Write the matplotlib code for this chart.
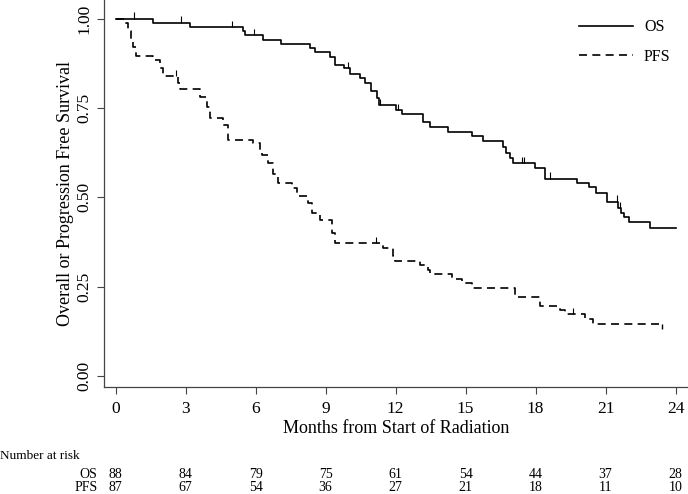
import matplotlib.pyplot as plt
import numpy as np

plt.rcParams['font.family'] = ['Liberation Serif', 'DejaVu Serif']

# step times (months) and survival level after each drop
os_t = [0, 1.59, 3.18, 5.47, 5.55, 6.33, 7.11, 8.33, 8.54, 9.21, 9.40, 9.79, 10.04, 10.47,
        10.69, 10.93, 11.21, 11.28, 12.0, 12.26, 13.16, 13.47, 14.23, 15.26, 15.76, 16.61,
        16.75, 16.9, 17.05, 17.97, 18.4, 19.78, 20.3, 20.58, 21.04, 21.55, 21.65, 21.8,
        22.0, 22.9, 24.0]
os_s = [1.0, 0.989, 0.977, 0.966, 0.955, 0.941, 0.930, 0.918, 0.906, 0.894, 0.871, 0.862,
        0.846, 0.834, 0.820, 0.797, 0.778, 0.759, 0.745, 0.734, 0.710, 0.698, 0.684, 0.672,
        0.658, 0.642, 0.625, 0.610, 0.596, 0.582, 0.553, 0.541, 0.528, 0.513, 0.488, 0.470,
        0.455, 0.446, 0.432, 0.415, 0.415]
os_cens = [0.8, 2.8, 5.0, 5.94, 9.97, 11.33, 12.1, 17.4, 17.5, 18.6, 21.47, 21.6]

pfs_t = [0, 0.35, 0.55, 0.65, 0.75, 0.88, 1.61, 1.90, 2.04, 2.68, 2.76, 3.61, 3.90, 4.04,
         4.61, 4.83, 5.90, 6.2, 6.26, 6.54, 6.76, 6.97, 7.54, 7.76, 8.26, 8.40, 8.76, 9.26,
         9.40, 11.47, 11.9, 11.97, 13.04, 13.4, 13.47, 14.4, 14.83, 15.26, 17.11, 18.19,
         19.04, 19.26, 20.1, 20.47, 23.4]
pfs_s = [1.0, 0.989, 0.966, 0.943, 0.920, 0.896, 0.885, 0.862, 0.839, 0.820, 0.803, 0.782,
         0.754, 0.722, 0.703, 0.661, 0.652, 0.630, 0.619, 0.596, 0.567, 0.540, 0.526, 0.503,
         0.484, 0.456, 0.437, 0.400, 0.372, 0.358, 0.336, 0.322, 0.311, 0.297, 0.285, 0.271,
         0.260, 0.247, 0.222, 0.197, 0.185, 0.173, 0.159, 0.146, 0.146]
pfs_cens = [2.6, 11.16, 19.6]
pfs_end_cens = [23.4]

risk_times = [0, 3, 6, 9, 12, 15, 18, 21, 24]
os_risk = [88, 84, 79, 75, 61, 54, 44, 37, 28]
pfs_risk = [87, 67, 54, 36, 27, 21, 18, 11, 10]


def level_at(t, times, surv):
    i = np.searchsorted(times, t, side='right') - 1
    return surv[i]


fig = plt.figure(figsize=(6.88, 4.94), dpi=100)
ax = fig.add_axes([0.151, 0.2166, 0.849, 0.7834])

l1, = ax.step(os_t, os_s, where='post', color='black', lw=1.2)
l2, = ax.step(pfs_t, pfs_s, where='post', color='black', lw=1.2, dashes=(4.8, 3.2))

# censoring ticks
for cens, tt, ss in [(os_cens, os_t, os_s), (pfs_cens, pfs_t, pfs_s)]:
    lv = [level_at(c, tt, ss) for c in cens]
    ax.vlines(cens, lv, np.array(lv) + 0.018, color='black', lw=0.8)
lv = [level_at(c, pfs_t, pfs_s) for c in pfs_end_cens]
ax.vlines(pfs_end_cens, np.array(lv) - 0.014, lv, color='black', lw=1.0)

ax.set_xlim(-0.5, 24.53)
ax.set_ylim(-0.031, 1.053)
ax.set_xticks(risk_times)
ax.set_yticks([0, 0.25, 0.5, 0.75, 1.0])
ax.set_yticklabels(['0.00', '0.25', '0.50', '0.75', '1.00'], rotation=90, va='center')
ax.tick_params(labelsize=12.5, length=5, width=0.8, color='#444444')
ax.tick_params(axis='x', pad=5)
ax.tick_params(axis='y', pad=3)
for s in ['top', 'right']:
    ax.spines[s].set_visible(False)
for s in ['left', 'bottom']:
    ax.spines[s].set_color('#444444')
    ax.spines[s].set_linewidth(0.9)

ax.set_xlabel('Months from Start of Radiation', fontsize=13, labelpad=2)
ax.set_ylabel('Overall or Progression Free Survival', fontsize=13, labelpad=2)

ax.legend([l1, l2], ['OS', 'PFS'], loc='upper right', frameon=False, fontsize=11.5,
          handlelength=3.4, handletextpad=0.7, labelspacing=0.85,
          bbox_to_anchor=(0.995, 0.987))

# number at risk table
fig.text(0.0, 1 - 456 / 494, 'Number at risk', fontsize=9.5, va='center', ha='left')
for lab, vals, ypx in [('OS', os_risk, 474), ('PFS', pfs_risk, 487)]:
    yf = 1 - ypx / 494
    fig.text(97.5 / 688, yf, lab, fontsize=10, va='center', ha='right')
    for t, v in zip(risk_times, vals):
        xf = fig.transFigure.inverted().transform(ax.transData.transform((t, 0)))[0]
        fig.text(xf, yf, str(v), fontsize=10, va='center', ha='center')

fig.savefig('out.png', dpi=100)
